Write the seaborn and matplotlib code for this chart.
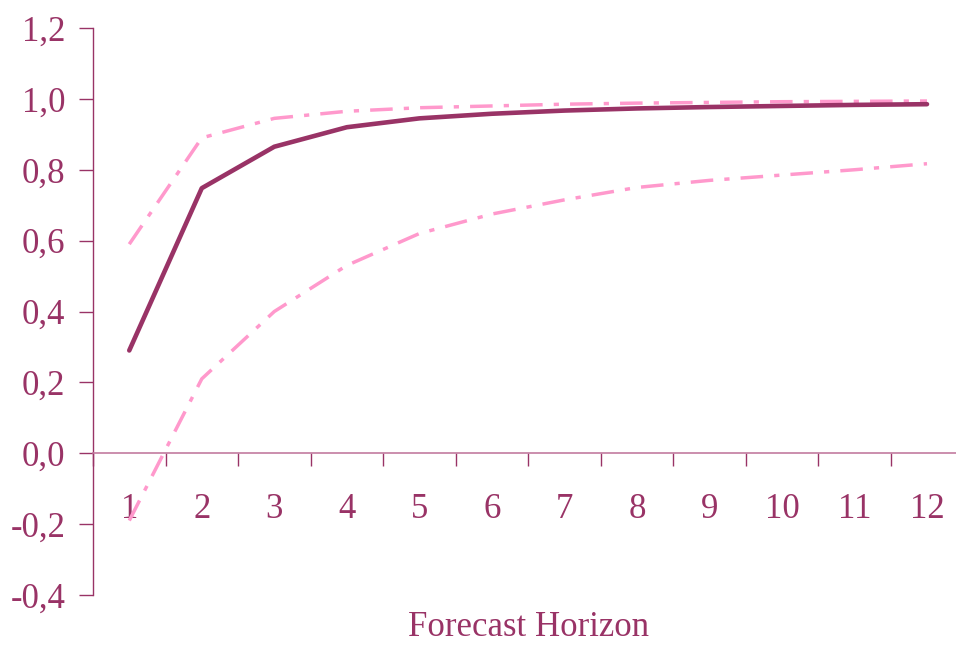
import numpy as np
import pandas as pd
import matplotlib
matplotlib.use("Agg")
import matplotlib.pyplot as plt
import seaborn as sns
from matplotlib.ticker import FixedLocator, FuncFormatter

horizon = [1, 2, 3, 4, 5, 6, 7, 8, 9, 10, 11, 12]
estimate = [0.29, 0.748, 0.865, 0.92, 0.945, 0.958, 0.967, 0.973, 0.977, 0.980, 0.983, 0.985]
upper = [0.59, 0.89, 0.945, 0.965, 0.975, 0.980, 0.985, 0.988, 0.990, 0.992, 0.993, 0.994]
lower = [-0.19, 0.21, 0.40, 0.53, 0.62, 0.675, 0.715, 0.75, 0.77, 0.785, 0.80, 0.817]
y_ticks = [-0.4, -0.2, 0.0, 0.2, 0.4, 0.6, 0.8, 1.0, 1.2]

dark = "#993366"
pink = "#FF99CC"

sns.set_style("white")
plt.rcParams['font.family'] = ['Liberation Serif', 'DejaVu Serif']

df = pd.DataFrame({'h': horizon, 'est': estimate, 'up': upper, 'lo': lower})

fig = plt.figure(figsize=(9.56, 6.47), dpi=100)
ax = fig.add_axes([93/956, 1-595/647, (956-93)/956, (595-28)/647])

dashdot = (0, (6.5, 3.2, 1.5, 3.2))
sns.lineplot(data=df, x='h', y='up', ax=ax, color=pink, linewidth=2.5, linestyle=dashdot)
sns.lineplot(data=df, x='h', y='lo', ax=ax, color=pink, linewidth=2.5, linestyle=dashdot)
sns.lineplot(data=df, x='h', y='est', ax=ax, color=dark, linewidth=3.3)

ax.set_xlim(0.5, 12.4)
ax.set_ylim(-0.4, 1.2)

for s in ['top', 'right']:
    ax.spines[s].set_visible(False)
ax.spines['left'].set_color(dark)
ax.spines['left'].set_linewidth(1.0)
ax.spines['bottom'].set_position(('data', 0))
ax.spines['bottom'].set_color("#C27BA0")
ax.spines['bottom'].set_linewidth(1.2)

ax.set_yticks(y_ticks)
ax.yaxis.set_major_formatter(FuncFormatter(lambda v, p: f"{v:.1f}".replace('.', ',')))
ax.tick_params(axis='y', which='major', left=True, direction='out', length=10,
               width=1, color=dark, labelcolor=dark, labelsize=25, pad=10)

ax.set_xticks(horizon)
ax.set_xticklabels([str(h) for h in horizon])
ax.xaxis.set_minor_locator(FixedLocator([h + 0.5 for h in horizon[:-1]] + [0.5]))
ax.tick_params(axis='x', which='major', bottom=False, labelcolor=dark, labelsize=25, pad=25)
ax.tick_params(axis='x', which='minor', bottom=True, direction='out', length=9,
               width=1, color=dark)

ax.set_xlabel('')
ax.set_ylabel('')
fig.text(528/956, 1-628/647, 'Forecast Horizon', ha='center', va='center',
         color=dark, fontsize=25)

fig.savefig('out.png', dpi=100)
